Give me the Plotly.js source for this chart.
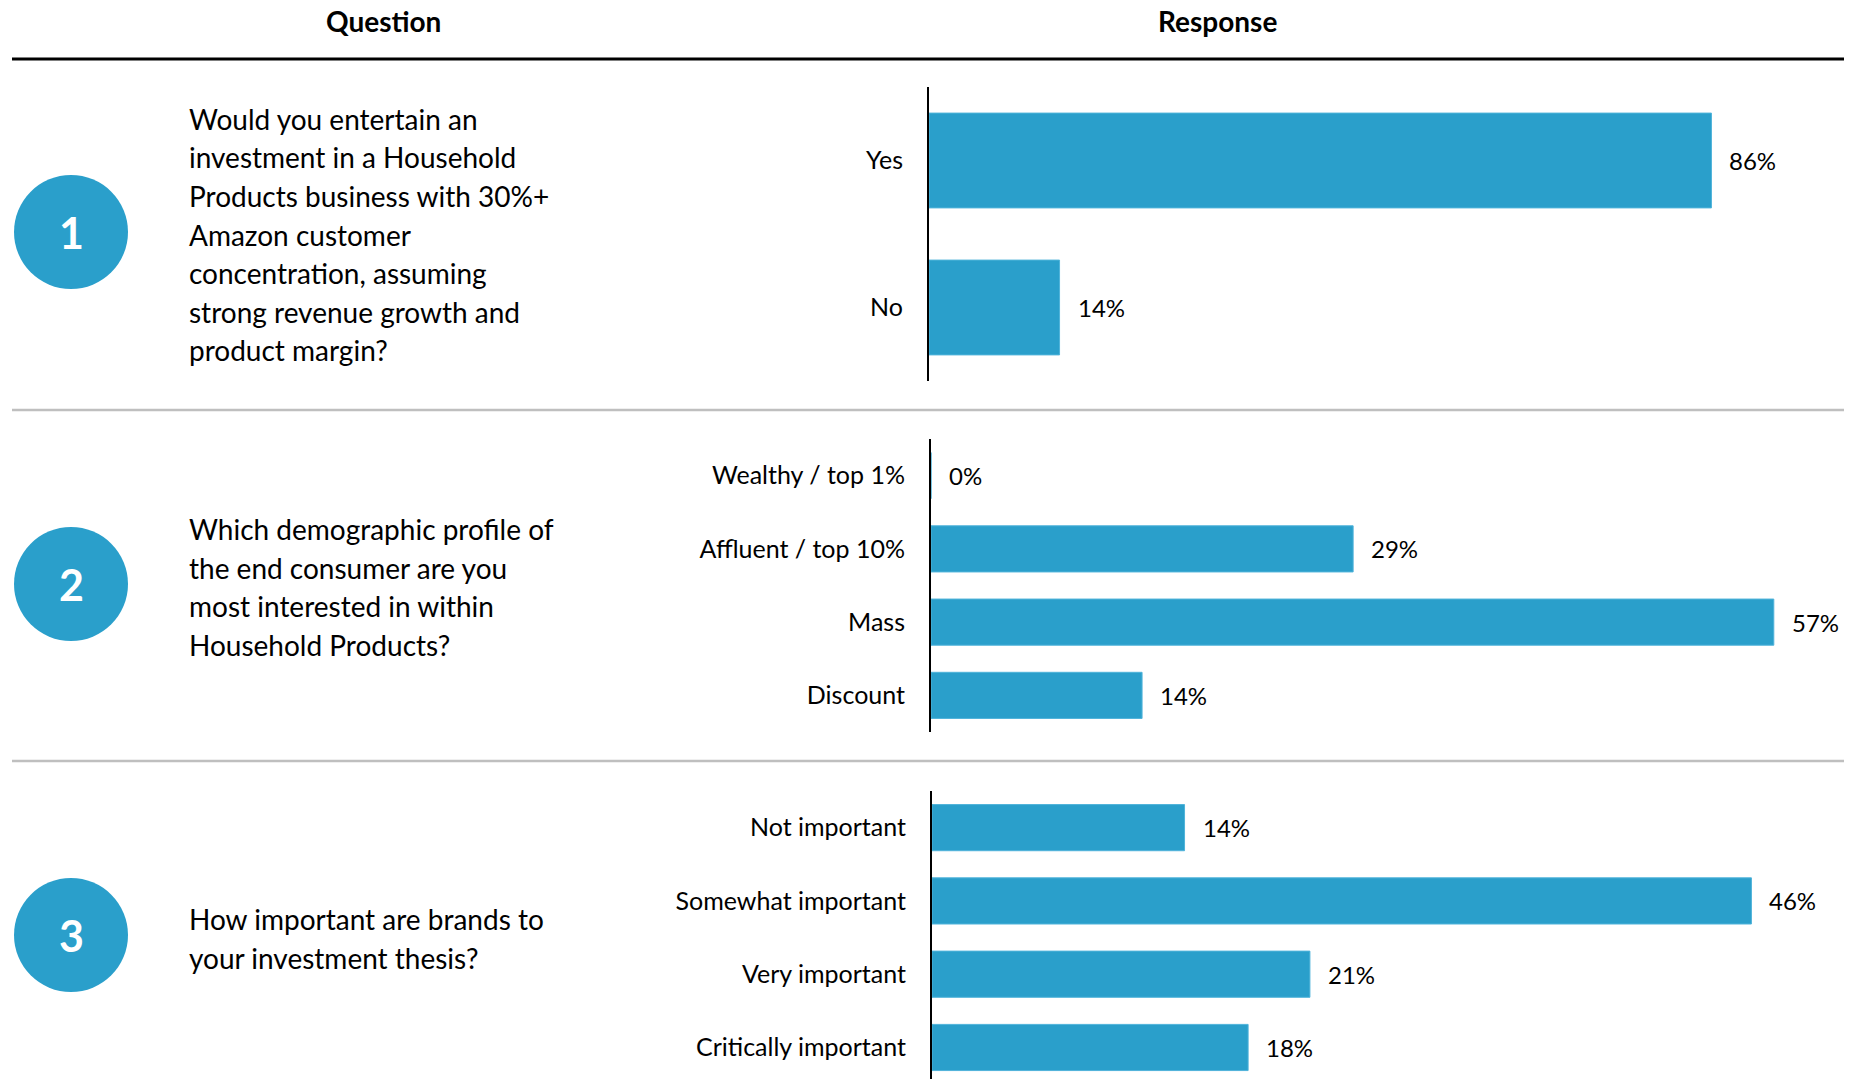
<!DOCTYPE html>
<html>
<head>
<meta charset="utf-8">
<script src="https://cdn.plot.ly/plotly-3.0.1.min.js"></script>
<style>
  html, body { margin: 0; padding: 0; background: #ffffff; }
  #chart { width: 1856px; height: 1079px; }
</style>
</head>
<body>
<div id="chart"></div>
<script>
// ---------------- DATA ----------------
const headers = ['Question', 'Response'];

const q1Lines = [
  'Would you entertain an',
  'investment in a Household',
  'Products business with 30%+',
  'Amazon customer',
  'concentration, assuming',
  'strong revenue growth and',
  'product margin?'
];
const q1Categories = ['Yes', 'No'];
const q1Values = [85.7, 14.3];

const q2Lines = [
  'Which demographic profile of',
  'the end consumer are you',
  'most interested in within',
  'Household Products?'
];
const q2Categories = ['Wealthy / top 1%', 'Affluent / top 10%', 'Mass', 'Discount'];
const q2Values = [0, 28.6, 57.1, 14.3];

const q3Lines = [
  'How important are brands to',
  'your investment thesis?'
];
const q3Categories = ['Not important', 'Somewhat important', 'Very important', 'Critically important'];
const q3Values = [14.3, 46.4, 21.4, 17.9];

const questionNumbers = ['1', '2', '3'];

// ---------------- LAYOUT HELPERS ----------------
const W = 1856, H = 1079;
const px = x => x / W;
const py = y => 1 - y / H;

const BLUE = '#2A9FCB';
const FONT = 'Lato, "Open Sans", sans-serif';

// panel geometry (pixels)
const panels = [
  { lines: q1Lines, cats: q1Categories, vals: q1Values, axisX: 929, pxPerUnit: 9.13,  top: 87,  bottom: 381,  bw: 0.645, catRange: [1.5, -0.5], circleY: 232, textY0: 119 },
  { lines: q2Lines, cats: q2Categories, vals: q2Values, axisX: 931, pxPerUnit: 14.76, top: 439, bottom: 732,  bw: 0.63,  catRange: [3.5, -0.5], circleY: 584, textY0: 529 },
  { lines: q3Lines, cats: q3Categories, vals: q3Values, axisX: 932, pxPerUnit: 17.66, top: 791, bottom: 1079, bw: 0.63,  catRange: [3.43, -0.5], circleY: 935, textY0: 919 }
];

const traces = [];
const layout = {
  width: W, height: H,
  margin: { l: 0, r: 0, t: 0, b: 0, pad: 0 },
  paper_bgcolor: '#ffffff',
  plot_bgcolor: 'rgba(0,0,0,0)',
  showlegend: false,
  font: { family: FONT, color: '#000000' },
  shapes: [],
  annotations: []
};

panels.forEach((p, i) => {
  const n = i === 0 ? '' : String(i + 1);
  const xa = 'xaxis' + n, ya = 'yaxis' + n;
  traces.push({
    type: 'bar',
    orientation: 'h',
    x: p.vals,
    y: p.cats,
    xaxis: 'x' + n,
    yaxis: 'y' + n,
    width: p.bw,
    marker: { color: BLUE, line: { color: '#4FB3DA', width: 1 } },
    hoverinfo: 'skip'
  });
  layout[xa] = {
    domain: [px(p.axisX), 1],
    range: [0, (W - p.axisX) / p.pxPerUnit],
    anchor: 'y' + n,
    visible: false,
    showgrid: false,
    zeroline: false,
    fixedrange: true
  };
  layout[ya] = {
    domain: [py(p.bottom), py(p.top)],
    anchor: 'x' + n,
    type: 'category',
    categoryorder: 'array',
    categoryarray: p.cats,
    range: p.catRange,
    showline: true,
    linecolor: '#000000',
    linewidth: 2,
    ticks: 'outside',
    ticklen: 19,
    tickcolor: 'rgba(0,0,0,0)',
    tickfont: { family: FONT, size: 25, color: '#000000' },
    showgrid: false,
    zeroline: false,
    fixedrange: true
  };
  // value labels
  p.vals.forEach((v, k) => {
    layout.annotations.push({
      xref: 'x' + n, yref: 'y' + n,
      x: v, y: p.cats[k],
      text: Math.round(v) + '%',
      showarrow: false,
      xanchor: 'left', yanchor: 'middle',
      xshift: 16,
      font: { family: FONT, size: 24, color: '#000000' }
    });
  });
  // question text
  p.lines.forEach((t, k) => {
    layout.annotations.push({
      xref: 'paper', yref: 'paper',
      x: px(187), y: py(p.textY0 + k * 38.5),
      text: t,
      showarrow: false,
      xanchor: 'left', yanchor: 'middle',
      font: { family: FONT, size: 28, color: '#000000' }
    });
  });
  // circle
  layout.shapes.push({
    type: 'circle', xref: 'paper', yref: 'paper',
    x0: px(71 - 57), x1: px(71 + 57),
    y0: py(p.circleY + 57), y1: py(p.circleY - 57),
    fillcolor: BLUE, line: { width: 0 }
  });
  layout.annotations.push({
    xref: 'paper', yref: 'paper',
    x: px(71), y: py(p.circleY),
    text: '<b>' + questionNumbers[i] + '</b>',
    showarrow: false,
    xanchor: 'center', yanchor: 'middle',
    font: { family: FONT, size: 43, color: '#ffffff' }
  });
});

// headers
[[headers[0], 383], [headers[1], 1217]].forEach(([t, x]) => {
  layout.annotations.push({
    xref: 'paper', yref: 'paper',
    x: px(x), y: py(21),
    text: '<b>' + t + '</b>',
    showarrow: false,
    xanchor: 'center', yanchor: 'middle',
    font: { family: FONT, size: 28, color: '#000000' }
  });
});

// rules
layout.shapes.push({
  type: 'line', xref: 'paper', yref: 'paper',
  x0: px(12), x1: px(1844), y0: py(59), y1: py(59),
  line: { color: '#000000', width: 3 }
});
[410, 761].forEach(y => {
  layout.shapes.push({
    type: 'line', xref: 'paper', yref: 'paper',
    x0: px(12), x1: px(1844), y0: py(y), y1: py(y),
    line: { color: '#BFBFBF', width: 2.5 }
  });
});

Plotly.newPlot('chart', traces, layout, { displayModeBar: false, staticPlot: true });
</script>
</body>
</html>
